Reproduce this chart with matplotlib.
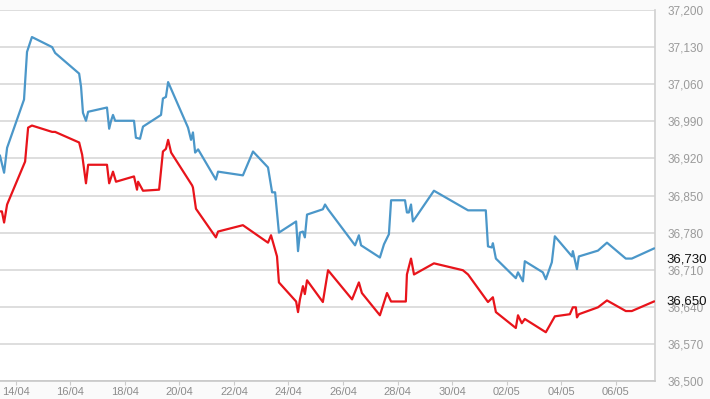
import pandas as pd
import numpy as np
import matplotlib.pyplot as plt
import matplotlib.dates as mdates
from matplotlib.ticker import FuncFormatter

# days counted from 14/04
blue_days = [-0.57, -0.42, -0.31, 0.31, 0.42, 0.60, 1.34, 1.45, 2.33, 2.40,
             2.47, 2.58, 2.66, 3.35, 3.43, 3.50, 3.57, 3.65, 4.34, 4.41,
             4.56, 4.67, 5.33, 5.40, 5.51, 5.59, 6.32, 6.43, 6.50, 6.58,
             6.69, 7.34, 7.42, 8.33, 8.70, 9.25, 9.40, 9.51, 9.65, 10.28,
             10.35, 10.42, 10.53, 10.60, 10.68, 11.26, 11.34, 11.45, 12.44, 12.58,
             12.66, 13.35, 13.50, 13.68, 13.76, 14.27, 14.34, 14.41, 14.49, 14.56,
             15.33, 16.58, 17.23, 17.31, 17.45, 17.49, 17.60, 18.33, 18.41, 18.59,
             18.66, 19.32, 19.43, 19.65, 19.76, 20.39, 20.42, 20.57, 20.64, 21.34,
             21.67, 22.36, 22.58, 23.39]
blue_vals = [36925, 36893, 36940, 37031, 37121, 37149, 37130, 37119, 37080, 37055,
             37006, 36991, 37008, 37016, 36976, 36991, 37002, 36991, 36991, 36959,
             36957, 36980, 37002, 37033, 37036, 37064, 36978, 36955, 36969, 36931,
             36937, 36880, 36895, 36888, 36933, 36903, 36856, 36856, 36780, 36801,
             36745, 36780, 36782, 36771, 36814, 36824, 36833, 36824, 36756, 36775,
             36756, 36733, 36758, 36777, 36841, 36841, 36818, 36818, 36833, 36801,
             36859, 36822, 36822, 36754, 36752, 36760, 36731, 36694, 36705, 36688,
             36726, 36705, 36692, 36724, 36773, 36735, 36745, 36711, 36735, 36746,
             36761, 36731, 36731, 36750]

red_days = [-0.57, -0.50, -0.42, -0.31, 0.35, 0.46, 0.60, 1.34, 1.45, 2.33,
            2.44, 2.58, 2.66, 3.35, 3.43, 3.57, 3.68, 4.34, 4.45, 4.49,
            4.67, 5.26, 5.40, 5.51, 5.59, 5.70, 6.47, 6.50, 6.61, 7.34,
            7.42, 8.33, 9.25, 9.36, 9.58, 9.65, 10.28, 10.35, 10.42, 10.53,
            10.60, 10.68, 11.26, 11.45, 12.33, 12.58, 12.69, 13.35, 13.61, 13.76,
            14.30, 14.34, 14.49, 14.60, 15.33, 16.39, 16.58, 17.31, 17.49, 17.60,
            18.33, 18.41, 18.55, 18.66, 19.43, 19.76, 20.31, 20.42, 20.53, 20.57,
            20.64, 21.34, 21.67, 22.36, 22.58, 23.39]
red_vals = [36820, 36820, 36799, 36833, 36914, 36978, 36982, 36970, 36970, 36950,
            36927, 36873, 36908, 36908, 36873, 36895, 36876, 36886, 36861, 36876,
            36859, 36861, 36933, 36938, 36955, 36931, 36869, 36865, 36825, 36771,
            36782, 36794, 36761, 36775, 36735, 36686, 36650, 36630, 36654, 36679,
            36664, 36690, 36649, 36709, 36654, 36686, 36666, 36624, 36666, 36650,
            36650, 36701, 36731, 36701, 36722, 36709, 36701, 36649, 36658, 36630,
            36600, 36624, 36609, 36617, 36592, 36622, 36626, 36639, 36639, 36620,
            36626, 36639, 36652, 36632, 36632, 36650]

y_ticks = [36500, 36570, 36640, 36710, 36780, 36850, 36920, 36990, 37060, 37130, 37200]
last_blue = 36730
last_red = 36650

base = pd.Timestamp('2015-04-14')
to_dates = lambda d: base + pd.to_timedelta(d, unit='D')

fig = plt.figure(figsize=(7.1, 3.99), dpi=100, facecolor='#fafafa')
ax = fig.add_axes([0, 18/399, 655/710, 371/399])
ax.set_facecolor('white')

ax.plot(to_dates(blue_days), blue_vals, color='#4b97c9', lw=1.6, zorder=3)
ax.plot(to_dates(red_days), red_vals, color='#e8141b', lw=1.6, zorder=3)

ax.set_ylim(36500, 37200)
ax.set_xlim(to_dates(-0.57), to_dates(23.43))
ax.set_yticks(y_ticks)
ax.yaxis.set_major_formatter(FuncFormatter(lambda v, p: f'{int(v):,}'))
ax.yaxis.tick_right()
ax.grid(axis='y', color='#d8d8d8', lw=1.2)
ax.set_axisbelow(True)

xt = pd.date_range('2015-04-14', '2015-05-06', freq='2D')
ax.set_xticks(xt)
ax.xaxis.set_major_formatter(mdates.DateFormatter('%d/%m'))

ax.tick_params(axis='y', length=0, pad=9, labelsize=8.5, labelcolor='#9a9a9a')
ax.tick_params(axis='x', length=3, width=0.8, color='#cccccc', pad=1.5,
               labelsize=8, labelcolor='#8c8c8c')
for lbl in ax.get_xticklabels() + ax.get_yticklabels():
    lbl.set_family('Liberation Sans')

for s in ['top', 'left']:
    ax.spines[s].set_visible(False)
ax.spines['right'].set_color('#d0d0d0')
ax.spines['bottom'].set_color('#c8c8c8')
ax.spines['right'].set_linewidth(1.2)
ax.spines['bottom'].set_linewidth(1.2)

# current values next to the axis
for v in [last_blue, last_red]:
    ax.annotate(f'{v:,}', xy=(1, v), xycoords=('axes fraction', 'data'),
                xytext=(11, 0), textcoords='offset pixels', va='center', ha='left',
                fontsize=9.5, color='#111111', family='Liberation Sans', zorder=5)

plt.savefig('out.png', dpi=100, facecolor=fig.get_facecolor())
